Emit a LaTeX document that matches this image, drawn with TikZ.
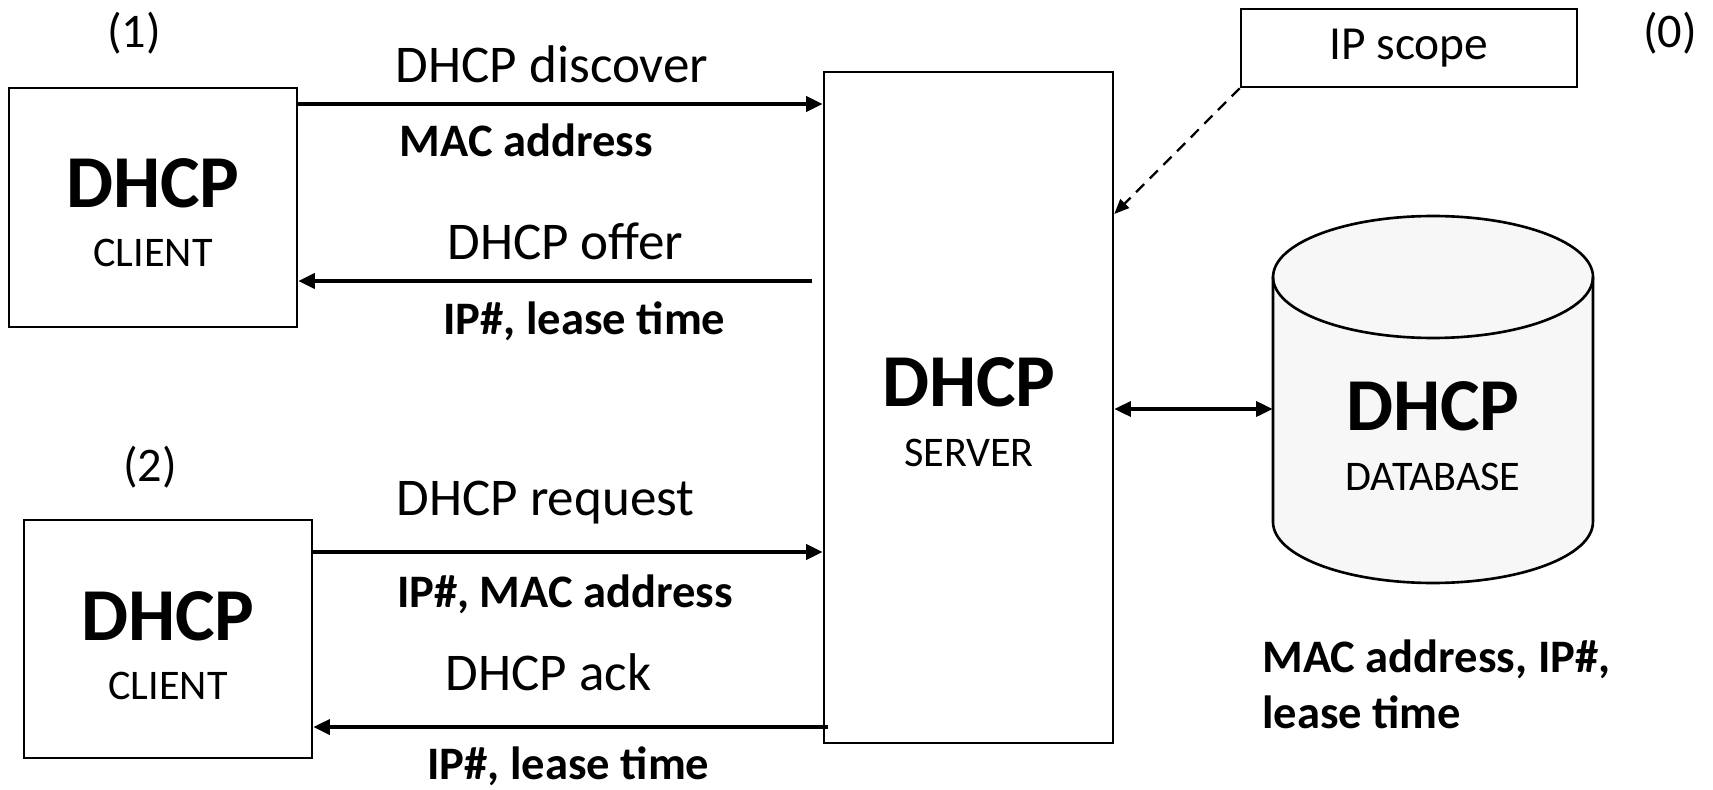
\documentclass[tikz,border=0pt]{standalone}
\usepackage{fontspec}
\setmainfont{Carlito}
\usetikzlibrary{arrows.meta}
\definecolor{dbgray}{HTML}{F7F7F7}

\begin{document}
\begin{tikzpicture}[x=0.02cm, y=-0.02cm,
    box/.style={draw, line width=1.5pt, inner sep=0pt},
    arr/.style={line width=2.3pt, -{Triangle[length=9.5pt, width=8.5pt]}},
    darr/.style={line width=2.3pt, {Triangle[length=9.5pt, width=8.5pt]}-{Triangle[length=9.5pt, width=8.5pt]}},
    dasharr/.style={line width=1.3pt, dash pattern=on 6.5pt off 4.5pt, -{Triangle[length=8.5pt, width=7pt]}},
    big/.style={font=\fontsize{42.5}{50}\selectfont\bfseries, anchor=base, inner sep=0pt},
    small/.style={font=\fontsize{24}{28}\selectfont, anchor=base, inner sep=0pt},
    msg/.style={font=\fontsize{30.2}{36}\selectfont, anchor=base, inner sep=0pt},
    steplabel/.style={font=\fontsize{27.5}{32}\selectfont, anchor=base, inner sep=0pt},
    info/.style={font=\fontsize{26.5}{32}\selectfont\bfseries, anchor=base, inner sep=0pt}]
    \useasboundingbox (0,0) rectangle (1713,790);

    % draw the boxes
    \node[box, minimum width=5.76cm, minimum height=4.78cm] (client1) at (153,207.5) {};
    \node[box, minimum width=5.76cm, minimum height=4.76cm] (client2) at (168,639) {};
    \node[box, minimum width=5.78cm, minimum height=13.42cm] (server) at (968.5,407.5) {};
    \node[box, minimum width=6.72cm, minimum height=1.56cm, font=\fontsize{27}{32}\selectfont] (ipscope) at (1409,48) {IP scope};

    % the database (drawn by hand, the node is only there for the arrow)
    \filldraw[fill=dbgray, line width=1.5pt] (1273,277) -- (1273,522)
        arc[start angle=180, end angle=360, x radius=3.2cm, y radius=1.22cm] -- (1593,277)
        arc[start angle=0, end angle=180, x radius=3.2cm, y radius=1.22cm] -- cycle;
    \draw[line width=1.5pt] (1273,277) arc[start angle=180, end angle=360, x radius=3.2cm, y radius=1.22cm];
    \node[minimum width=6.4cm, minimum height=7.34cm, inner sep=0pt] (db) at (1433,409) {};

    % the texts
    \node[big] (c1name) at (153,208) {DHCP};
    \node[small] (c1role) at (153,267) {CLIENT};
    \node[big] (c2name) at (168,640) {DHCP};
    \node[small] (c2role) at (168,699) {CLIENT};
    \node[big] (srvname) at (969,406) {DHCP};
    \node[small] (srvrole) at (969,466) {SERVER};
    \node[big] (dbname) at (1433,430) {DHCP};
    \node[small] (dbrole) at (1433,490) {DATABASE};

    \node[steplabel] (step1) at (134,48) {(1)};
    \node[steplabel] (step2) at (150,481) {(2)};
    \node[steplabel] (step0) at (1670,48) {(0)};

    % the messages
    \node[msg] (discover) at (552,83) {DHCP discover};
    \node[info] (discoverinfo) at (526.5,157) {MAC address};
    \node[msg] (offer) at (565.5,260) {DHCP offer};
    \node[info] (offerinfo) at (584.5,335) {IP\#, lease time};
    \node[msg] (request) at (545.5,515) {DHCP request};
    \node[info] (requestinfo) at (565,607) {IP\#, MAC address};
    \node[msg] (ack) at (548.5,690) {DHCP ack};
    \node[info] (ackinfo) at (568.5,779) {IP\#, lease time};
    \node[info, anchor=base west] (dbinfo1) at (1262,672) {MAC address, IP\#,};
    \node[info, anchor=base west] (dbinfo2) at (1262,728) {lease time};

    % draw the arrows
    \coordinate (discoverstart) at (client1.east |- 0,104);
    \coordinate (offerstart) at (812,281);
    \coordinate (requeststart) at (client2.east |- 0,552);
    \coordinate (ackstart) at (828,727);
    \coordinate (scopeend) at (server.east |- 0,214);
    \draw[arr] (discoverstart) -- (discoverstart -| server.west);
    \draw[arr] (offerstart) -- (offerstart -| client1.east);
    \draw[arr] (requeststart) -- (requeststart -| server.west);
    \draw[arr] (ackstart) -- (ackstart -| client2.east);
    \draw[darr] (server.east |- db.west) -- (db.west);
    \draw[dasharr] (ipscope.south west) -- (scopeend);
\end{tikzpicture}
\end{document}
